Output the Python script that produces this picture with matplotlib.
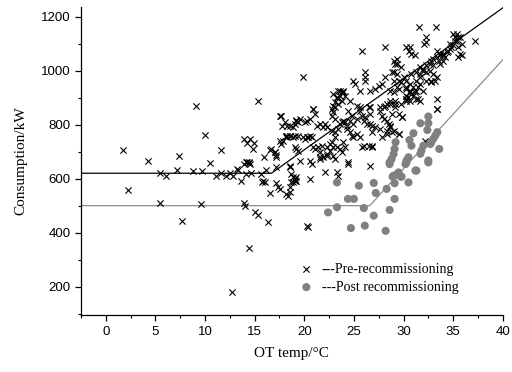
import matplotlib.pyplot as plt
import numpy as np
from matplotlib.ticker import MultipleLocator

# pre-recommissioning points (OT temp, consumption)
pre_x = [1.7, 4.3, 7.4, 9.1, 10.0, 10.5, 11.65, 15.3, 17.6, 17.8, 18.3,
         13.9, 14.2, 14.5, 14.9, 14.8, 15.95, 16.7, 17.1, 17.2, 17.7, 17.9, 18.3,
         14.1, 14.4, 14.5, 13.2,
         5.5, 6.1, 7.2, 8.8, 9.7,
         11.1, 11.6, 12.15, 12.55, 12.8, 13.3, 13.6, 14.1, 14.6, 15.6, 16.1, 15.7, 16.0, 15.85, 16.5, 17.2, 17.2, 17.4, 17.6, 18.2, 18.4,
         2.2, 5.5, 9.6, 13.9, 14.0, 15.0, 15.3, 16.3, 7.7, 14.4, 12.75,
         13.9, 14.2, 14.4, 17.1, 17.2, 18.6, 18.7, 18.9, 19.2, 19.1,
         19.2, 19.4, 18.2, 18.6, 19.1, 19.4, 16.6, 19.2, 19.4,
         19.85, 25.8, 28.1, 26.1, 26.1, 26.1, 24.9, 25.1, 25.6, 26.6, 27.1, 27.5, 27.8, 28.1,
         23.4, 23.8, 23.9, 23.6, 23.3, 23.1, 22.9, 22.8, 20.9, 24.6, 25.3, 25.6,
         29.0, 29.1, 29.3, 29.5, 28.6, 29.0, 29.3, 26.6, 27.6, 28.1, 28.6,
         31.6, 33.3, 32.3, 32.3, 32.1, 30.3, 30.7, 30.6, 30.8, 31.2,
         33.4, 33.7, 34.0, 35.0, 35.2, 35.4, 35.7, 35.9, 35.5, 35.0, 34.7, 34.4, 37.2, 35.7, 35.9, 35.5,
         34.0, 33.7, 33.0, 32.7, 32.3, 33.0, 33.4, 32.8,
         31.7, 32.0, 31.7, 31.3, 31.7, 31.5, 32.0, 31.2, 32.3, 32.8, 33.2, 33.4, 33.4,
         30.3, 30.7, 30.8, 30.5, 30.2, 30.7, 31.3, 31.7,
         29.7, 29.1, 29.5, 29.8,
         28.6, 28.3, 28.0, 27.6, 27.8, 28.0, 28.3, 28.5, 28.6, 28.8, 29.5, 28.3,
         26.5, 26.6, 26.1, 26.0, 26.3, 26.8, 25.6, 25.8, 24.4, 24.8, 25.3, 24.6, 24.9,
         22.9, 23.3, 23.6, 23.9, 24.1, 23.8, 23.4, 23.1, 22.9, 22.8, 23.1,
         20.9, 21.1, 20.6, 20.3, 20.1, 19.6, 19.2, 19.1, 18.9, 18.6, 18.1, 17.7,
         21.3, 21.6, 21.9, 22.3, 22.1,
         22.8, 23.1, 23.4, 23.6, 23.8, 23.9, 24.1, 24.3,
         24.3, 24.6, 24.8, 24.9, 25.3, 25.6, 25.8, 26.8,
         26.6, 26.8, 27.1, 27.6, 27.8, 28.3,
         17.6, 18.2, 18.6, 18.9, 19.9, 20.3, 20.6, 20.8,
         20.9, 21.4, 21.6, 21.9, 22.3, 22.6, 22.9, 22.8, 23.1,
         18.6, 19.6, 20.6, 20.8, 21.6, 24.4, 26.6,
         20.1, 20.4, 19.1, 21.1, 21.8, 22.3, 22.6, 23.3, 23.6, 23.9, 24.1, 23.8,
         26.0, 26.5, 26.8, 22.3, 22.9, 23.1, 24.4, 21.6,
         22.1, 23.3, 23.4, 18.9, 19.1, 19.2, 18.7, 18.6, 20.6, 18.6, 20.25, 20.4,
         35.4, 35.5, 35.2, 34.8, 34.7, 34.5, 34.0, 34.2, 33.7, 33.4, 33.6, 33.0, 32.8, 32.7,
         29.0, 29.3, 29.7, 28.8, 29.3, 30.0, 29.0, 29.7, 30.3, 30.7, 31.0, 31.3, 30.7, 30.3, 31.0, 29.5, 30.2, 30.8, 31.3, 31.7, 32.0, 32.3,
         29.1, 30.2, 31.5,
         29.1, 30.2, 33.4, 28.8, 29.8, 28.6, 29.0, 29.5, 32.2]
pre_y = [705, 666, 684, 869, 762, 658, 707, 889, 831, 793, 795,
         747, 731, 746, 731, 708, 679, 708, 697, 679, 728, 741, 756,
         660, 660, 654, 636,
         621, 608, 633, 627, 627,
         608, 621, 608, 621, 608, 633, 590, 617, 621, 617, 633, 586, 586, 590, 547, 642, 584, 568, 562, 543, 537,
         557, 511, 506, 511, 500, 475, 467, 438, 442, 342, 181,
         654, 663, 658, 697, 689, 648, 617, 586, 605, 593,
         817, 808, 756, 756, 756, 756, 706, 710, 704,
         975, 1071, 1086, 996, 978, 963, 963, 951, 926, 926, 932, 944, 951, 975,
         926, 920, 926, 907, 899, 883, 870, 858, 858, 889, 870, 864,
         996, 1025, 1043, 963, 926, 920, 938, 864, 864, 870, 876,
         1160, 1160, 1126, 1105, 1099, 1086, 1086, 1074, 1062, 1056,
         1074, 1062, 1056, 1136, 1123, 1111, 1123, 1099, 1086, 1093, 1080, 1068, 1111, 1062, 1056, 1049,
         1037, 1025, 1019, 1000, 994, 988, 975, 963,
         1012, 1000, 975, 963, 951, 938, 926, 920, 963, 957, 963, 895, 858,
         938, 926, 914, 901, 895, 889, 895, 889,
         876, 864, 840, 827,
         889, 876, 864, 852, 833, 821, 815, 803, 790, 772, 765, 778,
         864, 840, 827, 815, 803, 796, 852, 833, 852, 833, 821, 815, 803,
         914, 901, 926, 920, 907, 889, 876, 864, 846, 833, 821,
         858, 840, 821, 815, 809, 821, 815, 803, 790, 796, 809, 833,
         796, 803, 790, 790, 803,
         778, 772, 784, 803, 809, 815, 809, 796,
         784, 772, 759, 753, 765, 753, 716, 716,
         803, 772, 790, 784, 753, 765,
         741, 753, 759, 753, 753, 753, 759, 753,
         716, 716, 697, 679, 691, 704, 716, 735, 753,
         642, 667, 667, 654, 679, 654, 645,
         747, 753, 716, 710, 722, 716, 728, 716, 710, 735, 716, 697,
         722, 722, 722, 685, 685, 673, 660, 673,
         623, 623, 611, 605, 599, 593, 586, 568, 599, 549, 426, 420,
         1136, 1123, 1111, 1086, 1099, 1074, 1062, 1049, 1056, 1049, 1037, 1043, 1037, 1025,
         1037, 1025, 1012, 994, 988, 975, 963, 957, 963, 951, 938, 926, 920, 907, 907, 932, 932, 988, 994, 988, 1006, 1019,
         889, 895, 895,
         876, 889, 858, 840, 827, 796, 778, 765, 741]

# post recommissioning points
post_x = [28.6, 30.3, 32.5, 23.3, 25.5, 27.0, 27.2, 24.4, 25.0, 23.3, 22.4, 26.0, 27.0,
          24.7, 26.1, 28.2, 28.6, 28.3, 29.1, 29.1, 28.9, 29.4, 29.7, 30.5, 31.2,
          32.5, 32.5, 31.7, 32.4, 31.0, 30.6, 30.8, 33.4, 33.2, 33.0, 32.8, 32.7, 33.6,
          32.0, 31.8, 31.7, 29.2, 29.1, 29.0, 28.8, 28.6, 30.5, 30.3, 30.2, 32.5, 31.3,
          29.0, 29.5, 29.8]
post_y = [660, 660, 660, 586, 574, 584, 547, 525, 525, 494, 475, 491, 463,
          417, 426, 407, 484, 562, 525, 583, 607, 617, 608, 586, 630,
          830, 805, 805, 780, 768, 743, 722, 772, 759, 747, 735, 728, 710,
          722, 704, 692, 735, 710, 691, 673, 654, 679, 667, 654, 667, 630,
          611, 623, 607]

# change-point fits
pre_fit_x = [-2.5, 16.7, 40]
pre_fit_y = [620, 620, 1232]
post_fit_x = [-2.5, 26.6, 40]
post_fit_y = [500, 500, 1040]

fig = plt.figure(figsize=(5.12, 3.72), dpi=100)
ax = fig.add_axes([0.158, 0.153, 0.824, 0.828])

ax.plot(pre_fit_x, pre_fit_y, color='black', linewidth=0.9, zorder=2)
ax.plot(post_fit_x, post_fit_y, color='#8c8c8c', linewidth=0.9, zorder=2)
ax.scatter(pre_x, pre_y, marker='x', s=20, color='black', linewidths=0.8,
           label='---Pre-recommissioning', zorder=3)
ax.scatter(post_x, post_y, marker='o', s=34, color='#808080', edgecolors='none',
           label='---Post recommissioning', zorder=3)

ax.set_xlim(-2.5, 40)
ax.set_ylim(95, 1235)
ax.xaxis.set_major_locator(MultipleLocator(5))
ax.xaxis.set_minor_locator(MultipleLocator(2.5))
ax.yaxis.set_major_locator(MultipleLocator(200))
ax.yaxis.set_minor_locator(MultipleLocator(100))

for s in ['top', 'right']:
    ax.spines[s].set_visible(False)
for s in ['left', 'bottom']:
    ax.spines[s].set_linewidth(0.9)

ax.tick_params(which='major', direction='out', length=4, width=0.9,
               labelsize=9.5, labelfontfamily='Liberation Sans')
ax.tick_params(which='minor', direction='out', length=2.5, width=0.8)

ax.set_xlabel('OT temp/\u00b0C', family='Liberation Serif', fontsize=11, labelpad=7)
ax.set_ylabel('Consumption/kW', family='Liberation Serif', fontsize=11, labelpad=10)

ax.legend(loc='upper left', bbox_to_anchor=(0.485, 0.21), frameon=False,
          prop={'family': 'Liberation Serif', 'size': 10},
          handlelength=1.2, handletextpad=0.5, labelspacing=0.35, scatterpoints=1)

fig.savefig('out.png')
